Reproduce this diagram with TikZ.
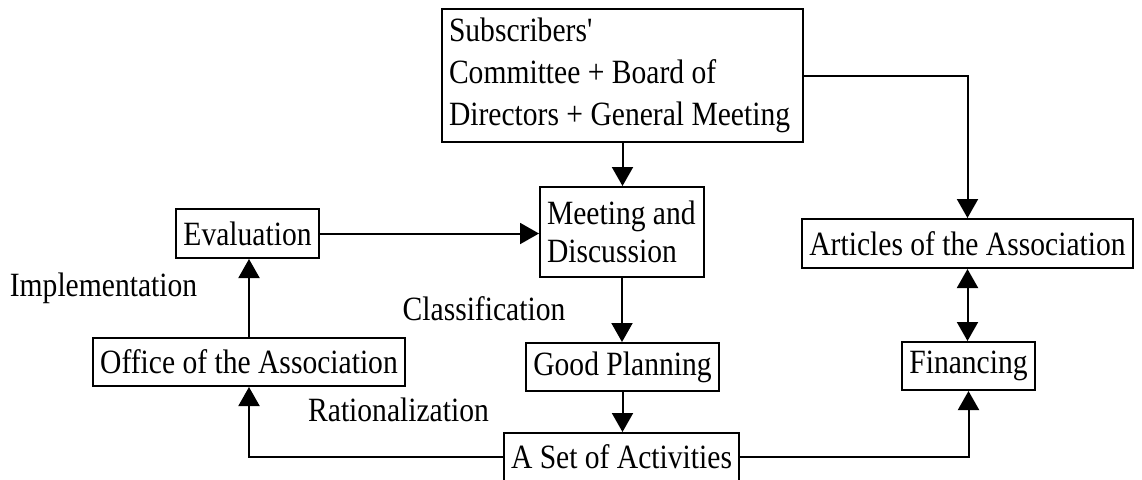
\documentclass[tikz,border=0pt]{standalone}
\usepackage{fontspec}
\setmainfont[FakeStretch=0.87]{Liberation Serif}
\usepackage{tikz}
\usetikzlibrary{arrows.meta,calc,positioning}
\tikzset{
  box/.style={draw,line width=1pt,inner xsep=3.5pt,inner ysep=0pt,minimum height=24pt},
  lbl/.style={inner sep=0pt,anchor=base},
  arr/.style={line width=1pt,-{Triangle[length=9.5pt,width=10.5pt]}},
  darr/.style={line width=1pt,{Triangle[length=9.5pt,width=10.5pt]}-{Triangle[length=9.5pt,width=10.5pt]}}
}
\begin{document}
\begin{tikzpicture}[x=0.5pt,y=-0.5pt,font=\fontsize{17}{21}\selectfont]
%Koordinaten in Pixeln, y nach unten
\useasboundingbox (0,0) rectangle (1142,479);
\node[box,minimum width=180.5pt,minimum height=66.5pt,text width=173.5pt,align=flush left] (sub) at (622.5,75.5) {Subscribers\textquotesingle\\Committee + Board of\\Directors + General Meeting};
\node[box,minimum width=82pt,minimum height=45pt,text width=75pt,align=flush left,font=\fontsize{17}{19}\selectfont] (meet) at (622,232) {Meeting and\\Discussion};
\node[box,minimum width=69.5pt,minimum height=24.5pt] (eval) at (247.5,233.5) {Evaluation};
\node[box,minimum width=156pt] (office) at (249,362) {Office of the Association};
\node[box,minimum width=96.5pt] (plan) at (622.5,367) {Good Planning};
\node[box,minimum width=117.5pt] (acts) at (621.5,457) {A Set of Activities};
\node[box,minimum width=165.5pt,minimum height=24.5pt] (art) at (967.5,243.5) {Articles of the Association};
\node[box,minimum width=64.5pt] (fin) at (968.5,366) {Financing};
%Beschriftungen ohne Rahmen
\node[lbl] (impl) at (103.5,296.5) {Implementation};
\node[lbl] (class) at (484,320) {Classification};
\node[lbl] (rat) at (398.5,421) {Rationalization};
%Pfeile
\draw[arr] (sub.south) -- (sub.south |- meet.north);
\draw[arr] (eval.east) -- (eval.east -| meet.west);
\draw[arr] (meet.south) -- (meet.south |- plan.north);
\draw[arr] (plan.south) -- (plan.south |- acts.north);
\draw[arr] (office.north) -- (office.north |- eval.south);
\draw[arr] (acts.west) -| (office.south);
\draw[arr] (acts.east) -| (fin.south);
\draw[arr] (sub.east) -| (art.north);
\draw[darr] (art.south) -- (art.south |- fin.north);
\end{tikzpicture}
\end{document}
